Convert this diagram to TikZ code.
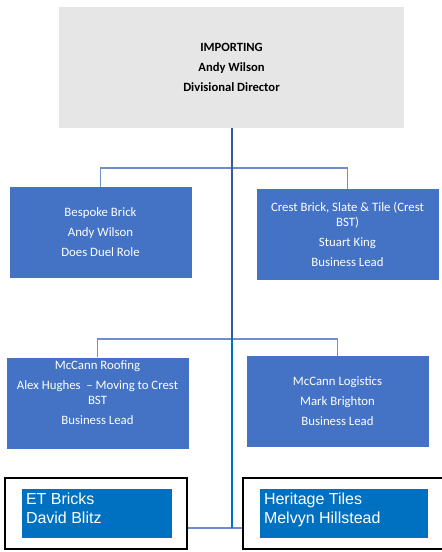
\documentclass[tikz,border=0pt]{standalone}
\usepackage{fontspec}
\setmainfont{Carlito}
\newfontfamily\arialfont{Liberation Sans}
\usepackage{xcolor}
\usetikzlibrary{positioning}
\definecolor{officeblue}{HTML}{4472C4}
\definecolor{brightblue}{HTML}{0070C0}
\definecolor{headgray}{HTML}{E6E6E6}
\definecolor{trunkblue}{HTML}{3559A5}
\definecolor{linkblue}{HTML}{6E8FCB}

\begin{document}
\begin{tikzpicture}[x=1pt,y=-1pt]
\tikzstyle{head}=[rectangle,fill=headgray,align=center,font=\fontsize{12.6}{15}\selectfont\bfseries,minimum width=345pt,minimum height=121pt,inner sep=0pt]
\tikzstyle{unit}=[rectangle,fill=officeblue,text=white,align=center,font=\fontsize{12.8}{15}\selectfont,minimum width=182pt,minimum height=91pt,inner sep=0pt]
\tikzstyle{frame}=[rectangle,draw=black,line width=2pt,minimum height=71pt,inner sep=0pt]
\tikzstyle{tag}=[rectangle,fill=brightblue,minimum height=49pt,inner sep=0pt]
\tikzstyle{tagtext}=[anchor=north west,inner sep=4pt,align=left,text=white,font=\arialfont\fontsize{16}{19}\selectfont]
\tikzstyle{link}=[draw=linkblue,line width=1.5pt]
\useasboundingbox (0,0) rectangle (442,552);
\node[head] (imp) at (231.5,67.5) {IMPORTING\\[5pt]Andy Wilson\\[5pt]Divisional Director};
\node[unit] (bes) at (100.5,232.5) {Bespoke Brick\\[5pt]Andy Wilson\\[5pt]Does Duel Role};
\node[unit] (bst) at (347.5,234.5) {Crest Brick, Slate \& Tile (Crest\\BST)\\[5pt]Stuart King\\[5pt]Business Lead};
\node[unit] (roof) at (97.5,403) {McCann Roofing\\[5pt]Alex Hughes \ – Moving to Crest\\BST\\[5pt]Business Lead\\[5pt]\mbox{}};
\node[unit] (logi) at (337.5,401.5) {McCann Logistics\\[5pt]Mark Brighton\\[5pt]Business Lead};
\node[frame,minimum width=182pt] (etout) at (96,513.5) {};
\node[tag,minimum width=150pt] (etin) at (97,513.5) {};
\node[tagtext] (etlbl) at (etin.north west) {ET Bricks\\David Blitz};
\node[frame,minimum width=217pt] (htout) at (351.5,513.5) {};
\node[tag,minimum width=168pt] (htin) at (344,513.5) {};
\node[tagtext] (htlbl) at (htin.north west) {Heritage Tiles\\Melvyn Hillstead};
\coordinate (j2) at (231.5,168);
\coordinate (j3) at (231.5,339);
\coordinate (j4) at (231.5,528);
\draw[link] (j2) -| (bes.north);
\draw[link] (j2) -| (bst.north);
\draw[link] (j3) -| (roof.north);
\draw[link] (j3) -| (logi.north);
\draw[link] (etout.east |- j4) -- (htout.west |- j4);
\draw[trunkblue,line width=2pt] (imp.south) -- (j3);
\draw[brightblue,line width=2pt] (j3) -- (j4);
\end{tikzpicture}
\end{document}
